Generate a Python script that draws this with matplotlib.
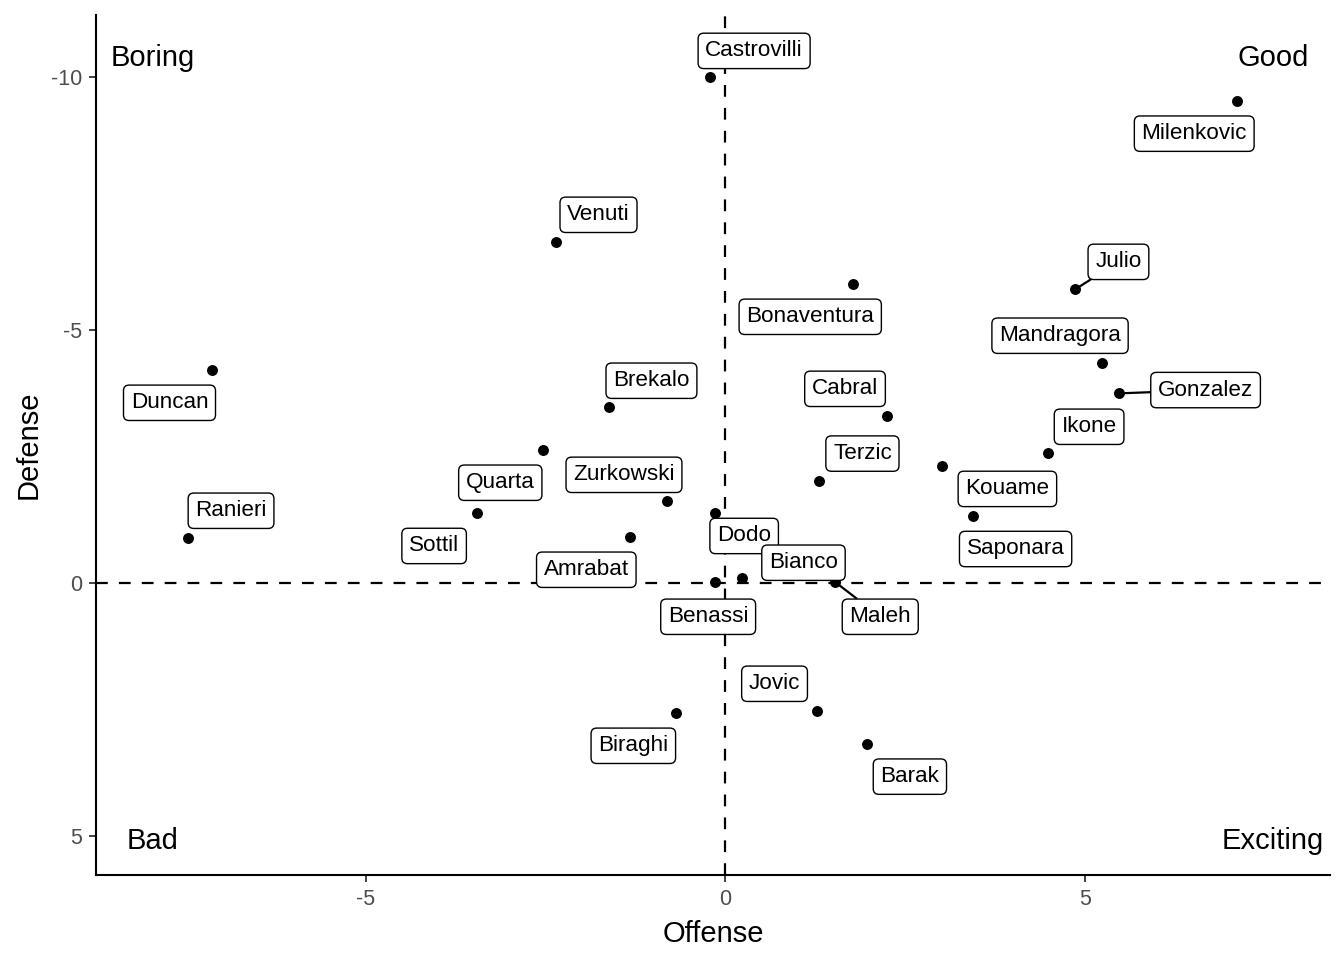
import matplotlib
matplotlib.use("Agg")
import matplotlib.pyplot as plt

plt.rcParams['font.family'] = ['Liberation Sans', 'DejaVu Sans']
plt.rcParams['axes.unicode_minus'] = False

players = ["Castrovilli", "Milenkovic", "Venuti", "Bonaventura", "Julio", "Mandragora",
           "Duncan", "Gonzalez", "Brekalo", "Cabral", "Ikone", "Quarta", "Terzic",
           "Kouame", "Saponara", "Ranieri", "Sottil", "Zurkowski", "Amrabat", "Dodo",
           "Bianco", "Benassi", "Maleh", "Jovic", "Biraghi", "Barak"]
offense = [-0.21, 7.12, -2.36, 1.78, 4.87, 5.24, -7.13, 5.47, -1.61, 2.25, 4.49, -2.53, 1.31,
           3.02, 3.44, -7.47, -3.45, -0.81, -1.32, -0.14, 0.24, -0.14, 1.53, 1.27, -0.68, 1.97]
defense = [-10.0, -9.53, -6.74, -5.91, -5.81, -4.35, -4.21, -3.75, -3.48, -3.30, -2.57, -2.63, -2.02,
           -2.31, -1.32, -0.89, -1.38, -1.62, -0.91, -1.38, -0.10, -0.02, -0.02, 2.53, 2.57, 3.18]

quadrant_labels = ["Boring", "Good", "Bad", "Exciting"]
quadrant_x = [-7.96, 7.62, -7.96, 7.62]
quadrant_y = [-10.43, -10.43, 5.04, 5.04]

# label offsets in pixels (dx, dy with y downward), layout only
label_offsets_px = [(44, -28), (-43, 31), (43, -29), (-43, 31), (43, -29), (-42, -29),
                    (-43, 31), (87, -5), (42, -28), (-42, -29), (41, -28), (-43, 31), (43, -29),
                    (65, 21), (43, 31), (43, -29), (-43, 31), (-43, -28), (-44, 31), (29, 21),
                    (61, -17), (-7, 33), (45, 33), (-42, -29), (-43, 31), (43, 31)]
with_segment = {"Julio", "Gonzalez", "Maleh"}

fig = plt.figure(figsize=(13.44, 9.6), dpi=100)
ax = fig.add_axes([96/1344, 85/960, (1330-96)/1344, (875-15)/960])

ax.axvline(0, color='black', lw=1.6, ls=(0, (5.3, 5)), zorder=1)
ax.axhline(0, color='black', lw=1.6, ls=(0, (5.3, 5)), zorder=1)

ax.scatter(offense, defense, s=62, color='black', zorder=3, linewidths=0)

for name, x, y, (dx, dy) in zip(players, offense, defense, label_offsets_px):
    kw = {}
    if name in with_segment:
        kw['arrowprops'] = dict(arrowstyle='-', color='black', lw=1.6, shrinkA=0, shrinkB=0)
    ax.annotate(name, (x, y), xytext=(dx * 0.72, -dy * 0.72 - 1.2), textcoords='offset points',
                ha='center', va='center', fontsize=16.2, color='black', zorder=4,
                bbox=dict(boxstyle='round,pad=0.32,rounding_size=0.25', fc='white', ec='black', lw=1.0),
                **kw)

for t, x, y in zip(quadrant_labels, quadrant_x, quadrant_y):
    ax.text(x, y, t, ha='center', va='center_baseline', fontsize=21, color='black', zorder=5)

ax.set_xlim(-8.75, 8.41)
ax.set_ylim(5.77, -11.23)
ax.set_xticks([-5, 0, 5])
ax.set_yticks([-10, -5, 0, 5])
ax.set_xticklabels(["-5", "0", "5"])
ax.set_yticklabels(["-10", "-5", "0", "5"])
ax.tick_params(labelsize=15.5, colors='#333333', length=5, width=1.3, labelcolor='#4d4d4d', pad=5)
for s in ['top', 'right']:
    ax.spines[s].set_visible(False)
for s in ['left', 'bottom']:
    ax.spines[s].set_linewidth(1.5)
    ax.spines[s].set_color('black')
ax.set_xlabel("Offense", fontsize=21, labelpad=7)
ax.set_ylabel("Defense", fontsize=21, labelpad=6)

fig.savefig("out.png", dpi=100)
